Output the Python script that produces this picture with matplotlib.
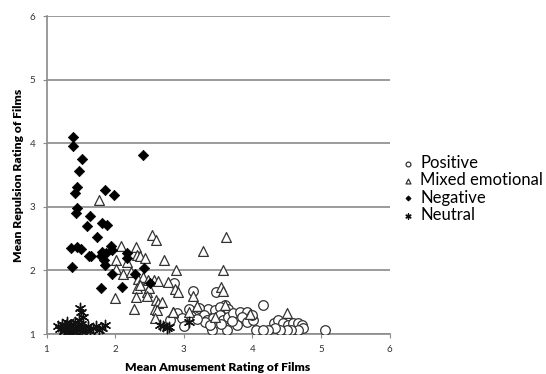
import matplotlib
matplotlib.use("Agg")
import matplotlib.pyplot as plt

plt.rcParams['font.family'] = ['Lato', 'DejaVu Sans']

# ---- data ----
positive_x = [2.86, 3.14, 3.47, 3.60, 4.15, 3.36, 3.46, 3.53, 3.08, 3.23, 3.64,
              2.90, 2.97, 2.80, 3.29, 3.34, 3.43, 3.53, 3.58, 3.65, 3.72, 3.82,
              3.92, 3.85, 3.92, 4.01, 3.41, 3.63, 3.77, 4.06, 3.31, 3.38, 3.10,
              3.20, 3.70, 4.00, 3.55, 3.00,
              4.31, 4.38, 4.45, 4.52, 4.60, 4.67, 4.72, 4.74, 4.67, 4.57, 4.50,
              4.40, 4.33, 4.23, 4.16, 5.06]
positive_y = [1.80, 1.67, 1.66, 1.46, 1.45, 1.40, 1.38, 1.43, 1.39, 1.41, 1.40,
              1.33, 1.25, 1.22, 1.30, 1.22, 1.25, 1.30, 1.22, 1.27, 1.33, 1.35,
              1.35, 1.27, 1.19, 1.22, 1.06, 1.06, 1.14, 1.06, 1.19, 1.14, 1.28,
              1.24, 1.20, 1.30, 1.15, 1.12,
              1.17, 1.22, 1.17, 1.14, 1.17, 1.17, 1.14, 1.09, 1.06, 1.06, 1.06,
              1.06, 1.09, 1.06, 1.06, 1.07]

mixed_x = [1.76, 2.54, 2.59, 3.28, 3.62, 2.08, 2.31, 2.01, 2.18, 2.32, 2.37,
           2.43, 2.71, 2.89, 3.57, 2.02, 2.12, 2.23, 2.34, 2.40, 2.48, 2.57,
           2.63, 2.77, 2.88, 2.92, 2.32, 2.36, 2.46, 2.50, 2.00, 2.30, 2.46,
           2.60, 2.63, 2.68, 2.27, 2.58, 2.61, 3.14, 3.55, 3.57, 2.58, 2.84,
           3.07, 3.19, 3.60, 3.97, 4.50, 3.46, 2.85]
mixed_y = [3.11, 2.56, 2.48, 2.31, 2.52, 2.39, 2.37, 2.16, 2.13, 2.25, 2.22,
           2.19, 2.16, 2.00, 2.01, 2.02, 1.95, 1.98, 1.86, 1.89, 1.85, 1.85,
           1.84, 1.82, 1.70, 1.66, 1.72, 1.77, 1.66, 1.72, 1.56, 1.58, 1.59,
           1.53, 1.49, 1.50, 1.40, 1.40, 1.38, 1.60, 1.74, 1.67, 1.25, 1.35,
           1.35, 1.44, 1.45, 1.32, 1.33, 1.27, 1.35]

negative_x = [1.39, 1.39, 1.52, 1.47, 1.45, 1.41, 1.86, 1.98, 2.41, 1.44, 1.43,
              1.64, 1.59, 1.81, 1.88, 1.74, 1.36, 1.44, 1.51, 1.62, 1.65, 1.81,
              1.87, 1.94, 1.84, 1.86, 2.18, 2.18, 1.37, 1.96, 2.42, 2.29, 1.79,
              2.10, 2.51, 1.80, 1.95]
negative_y = [4.09, 3.96, 3.75, 3.56, 3.31, 3.22, 3.27, 3.18, 3.81, 2.98, 2.91,
              2.86, 2.70, 2.74, 2.72, 2.53, 2.36, 2.37, 2.34, 2.23, 2.23, 2.29,
              2.27, 2.39, 2.16, 2.08, 2.27, 2.19, 2.06, 1.95, 2.04, 1.94, 1.73,
              1.74, 1.80, 2.22, 2.32]

neutral_x = [1.49, 1.51, 1.53, 1.48, 1.17, 1.20, 1.22, 1.25, 1.27, 1.29, 1.31,
             1.33, 1.35, 1.37, 1.39, 1.41, 1.43, 1.45, 1.47, 1.50, 1.52, 1.55,
             1.58, 1.61, 1.64, 1.68, 1.72, 1.76, 1.81, 1.86, 1.30, 1.42,
             2.65, 2.70, 2.75, 2.78, 3.07]
neutral_y = [1.41, 1.34, 1.27, 1.22, 1.12, 1.08, 1.15, 1.05, 1.10, 1.14, 1.03,
             1.08, 1.12, 1.05, 1.16, 1.09, 1.03, 1.12, 1.07, 1.15, 1.04, 1.10,
             1.06, 1.12, 1.05, 1.09, 1.13, 1.06, 1.10, 1.14, 1.19, 1.19,
             1.14, 1.13, 1.09, 1.11, 1.19]

labels = ["Positive", "Mixed emotional", "Negative", "Neutral"]
ticks = [1, 2, 3, 4, 5, 6]

# ---- figure ----
fig = plt.figure(figsize=(5.46, 3.74), dpi=100)
ax = fig.add_axes([46.5/546, 40/374, (389.5-46.5)/546, (334-16)/374])

edge = '#333333'
ax.scatter(positive_x, positive_y, s=48, marker='o', facecolors='white',
           edgecolors=edge, linewidths=0.9, zorder=3, label=labels[0])
ax.scatter(mixed_x, mixed_y, s=50, marker='^', facecolors='white',
           edgecolors=edge, linewidths=0.9, zorder=3, label=labels[1])
ax.scatter(negative_x, negative_y, s=28, marker='D', facecolors='black',
           edgecolors='black', linewidths=0.5, zorder=4, label=labels[2])
ax.scatter(neutral_x, neutral_y, s=55, marker=(6, 2, 0), color='#111111',
           linewidths=1.0, zorder=4, label=labels[3])

ax.set_xlim(1, 6)
ax.set_ylim(1, 6)
ax.set_xticks(ticks)
ax.set_yticks(ticks)
ax.yaxis.grid(True, color='#8a8a8a', linewidth=1.2)
ax.set_axisbelow(True)
for s in ['top', 'right']:
    ax.spines[s].set_visible(False)
for s in ['left', 'bottom']:
    ax.spines[s].set_color('#8a8a8a')
    ax.spines[s].set_linewidth(1.2)
ax.tick_params(axis='both', length=3, width=0.8, color='#8a8a8a',
               labelsize=7, labelcolor='#333333', pad=5)

ax.set_xlabel("Mean Amusement Rating of Films", fontsize=8.7, fontweight='heavy',
              labelpad=6)
ax.set_ylabel("Mean Repulsion Rating of Films", fontsize=8.7, fontweight='heavy',
              labelpad=4)

leg = ax.legend(loc='upper left', bbox_to_anchor=(403/546, 1 - 155/374),
                bbox_transform=fig.transFigure, frameon=False, fontsize=12,
                markerscale=0.5, handlelength=0.6, handletextpad=0.45,
                labelspacing=0.08, borderpad=0, borderaxespad=0)

fig.savefig("out.png", dpi=100)
